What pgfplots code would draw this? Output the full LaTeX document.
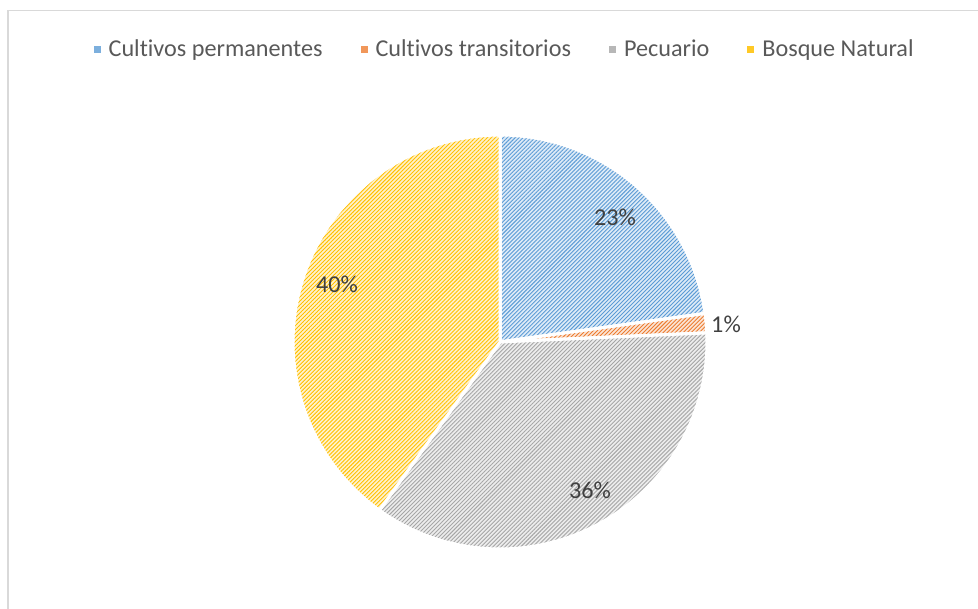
\documentclass[border=0pt]{standalone}
\usepackage{pgfplots}
\pgfplotsset{compat=1.18}
\usepackage{fontspec}
\setmainfont{Carlito}[Ligatures={NoCommon}]
\usetikzlibrary{patterns.meta}
\definecolor{cBlue}{HTML}{5B9BD5}
\definecolor{bBlue}{HTML}{DEEBF7}
\definecolor{cOrange}{HTML}{ED7D31}
\definecolor{bOrange}{HTML}{FBE5D6}
\definecolor{cGray}{HTML}{A5A5A5}
\definecolor{bGray}{HTML}{EDEDED}
\definecolor{cGold}{HTML}{FFC000}
\definecolor{bGold}{HTML}{FFF2CC}
\definecolor{txtLegend}{HTML}{595959}
\definecolor{txtLabel}{HTML}{404040}
\definecolor{frameGray}{HTML}{D9D9D9}
% shares of the pie (percent)
\def\vA{22.8}% Cultivos permanentes
\def\vB{1.5}% Cultivos transitorios
\def\vC{35.6}% Pecuario
\def\vD{40.1}% Bosque Natural
\pgfmathsetmacro\aA{90}
\pgfmathsetmacro\aB{\aA-3.6*\vA}
\pgfmathsetmacro\aC{\aB-3.6*\vB}
\pgfmathsetmacro\aD{\aC-3.6*\vC}
\pgfmathsetmacro\aE{\aD-3.6*\vD}
\tikzset{
  slice/.style n args={2}{pattern={Lines[angle=45,distance=1.41pt,line width=0.45pt]},
    pattern color=#1, preaction={fill=#2}, draw=white, line width=1.5pt},
}
\begin{document}
\begin{tikzpicture}
\begin{axis}[
  scale only axis, width=489pt, height=304.5pt,
  xmin=0, xmax=978, ymin=0, ymax=609,
  hide axis, clip=false,
  samples=90,
  legend columns=4,
  legend style={at={(0.517,0.918)}, anchor=center, draw=none, fill=none,
    font=\fontsize{12.1}{14}\selectfont, text=txtLegend,
    /tikz/every odd column/.append style={column sep=2pt},
    /tikz/every even column/.append style={column sep=17pt}},
  legend image code/.code={\fill[#1] (0pt,-1.75pt) rectangle (3.5pt,1.75pt);},
]
\addplot[slice={cBlue}{bBlue}, domain=\aB:\aA, forget plot] ({500+207*cos(x)},{267+207*sin(x)}) -- (axis cs:500,267) -- cycle;
\addplot[slice={cOrange}{bOrange}, domain=\aC:\aB, forget plot] ({500+207*cos(x)},{267+207*sin(x)}) -- (axis cs:500,267) -- cycle;
\addplot[slice={cGray}{bGray}, domain=\aD:\aC, forget plot] ({500+207*cos(x)},{267+207*sin(x)}) -- (axis cs:500,267) -- cycle;
\addplot[slice={cGold}{bGold}, domain=\aE:\aD, forget plot] ({500+207*cos(x)},{267+207*sin(x)}) -- (axis cs:500,267) -- cycle;
\addlegendimage{fill=cBlue!80!white, draw=none}
\addlegendentry{Cultivos permanentes}
\addlegendimage{fill=cOrange!80!white, draw=none}
\addlegendentry{Cultivos transitorios}
\addlegendimage{fill=cGray!80!white, draw=none}
\addlegendentry{Pecuario}
\addlegendimage{fill=cGold!85!white, draw=none}
\addlegendentry{Bosque Natural}
\begin{scope}[font=\fontsize{12.1}{14}\selectfont, text=txtLabel]
\node at (axis cs:615,392) {23\%};
\node at (axis cs:726,285) {1\%};
\node at (axis cs:590,119) {36\%};
\node at (axis cs:337,325) {40\%};
\end{scope}
\draw[frameGray, line width=0.6pt] (axis cs:8,-2) -- (axis cs:8,598.5) -- (axis cs:980,598.5);
\end{axis}
\pgfresetboundingbox
\path (current axis.south west) rectangle (current axis.north east);
\end{tikzpicture}
\end{document}
